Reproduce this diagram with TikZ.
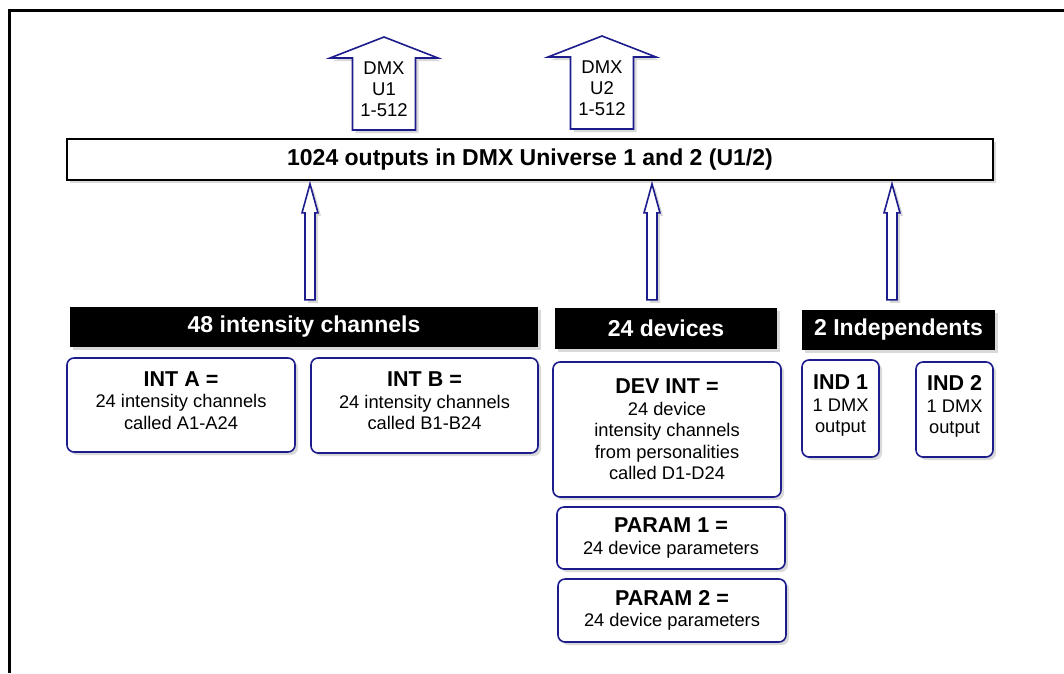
\documentclass[tikz,border=0pt]{standalone}
\usepackage{fontspec}
\setmainfont{Liberation Sans}
\usetikzlibrary{calc,shadows}
\definecolor{boxblue}{RGB}{28,28,140}
\newcommand{\boxttl}{\bfseries\fontsize{21.5}{25}\selectfont}
% hollow arrow from a header up to the outputs bar
\newcommand{\thinup}[2]{%
  \draw[flow] ($(#1)+(-5,0)$) -- ($(#2)+(-5,29)$) -- ($(#2)+(-8,29)$) -- (#2)
    -- ($(#2)+(8,29)$) -- ($(#2)+(5,29)$) -- ($(#1)+(5,0)$) -- cycle;}
% wide arrow leaving the outputs bar
\newcommand{\bigup}[1]{%
  \draw[flow] ($(#1)+(-31.5,41)$) -- ($(#1)+(-31.5,-31)$) -- ($(#1)+(-54,-31)$) -- ($(#1)+(0,-52)$)
    -- ($(#1)+(54,-31)$) -- ($(#1)+(31.5,-31)$) -- ($(#1)+(31.5,41)$) -- cycle;}

\begin{document}
\begin{tikzpicture}[x=1pt,y=-1pt,
    shade/.style={drop shadow={shadow xshift=3pt,shadow yshift=-3pt,opacity=.3}},
    flow/.style={draw=boxblue,line width=1.6pt,fill=white,shade},
    box/.style={draw=boxblue,line width=1.6pt,rounded corners=7pt,fill=white,align=center,
      inner sep=1pt,font=\fontsize{18.3}{21.5}\selectfont,shade},
    hdr/.style={fill=black,text=white,inner sep=0pt,minimum height=40pt,
      font=\bfseries\fontsize{23}{26}\selectfont,shade},
    dmxtext/.style={align=center,inner sep=0pt,font=\fontsize{18.5}{21}\selectfont}]
  \useasboundingbox (0,0) rectangle (1064,673);
  \draw[line width=3pt] (9.5,673) -- (9.5,10.5) -- (1064,10.5);

  % outputs bar
  \node[draw,line width=1.8pt,fill=white,minimum width=926pt,minimum height=41pt,inner sep=0pt,
    font=\bfseries\fontsize{23}{26}\selectfont,shade] (bar) at (530,159.5)
    {1024 outputs in DMX Universe 1 and 2 (U1/2)};

  % universes
  \coordinate (u1) at (384,89);
  \coordinate (u2) at (602,88);
  \bigup{u1}
  \bigup{u2}
  \node[dmxtext] (u1txt) at (u1) {DMX\\U1\\1-512};
  \node[dmxtext] (u2txt) at (u2) {DMX\\U2\\1-512};

  % group headers
  \node[hdr,minimum width=468pt] (hdrInt) at (304,327) {48 intensity channels};
  \node[hdr,minimum width=222pt,minimum height=41pt] (hdrDev) at (666,328.5) {24 devices};
  \node[hdr,minimum width=193pt] (hdrInd) at (898.5,330) {2 Independents};

  \coordinate (bInt) at ($(hdrInt.north)+(6,-7)$);
  \coordinate (bDev) at ($(hdrDev.north)+(-14,-8)$);
  \coordinate (bInd) at ($(hdrInd.north)+(-6.5,-10)$);
  \coordinate (tInt) at ($(bInt |- bar.south)+(0,3)$);
  \coordinate (tDev) at ($(bDev |- bar.south)+(0,3)$);
  \coordinate (tInd) at ($(bInd |- bar.south)+(0,3)$);
  \thinup{bInt}{tInt}
  \thinup{bDev}{tDev}
  \thinup{bInd}{tInd}

  % channel boxes
  \node[box,minimum width=228pt,minimum height=94pt] (intA) at (181,405)
    {{\boxttl INT A =}\\24 intensity channels\\called A1-A24\\[-12pt]};
  \node[box,minimum width=227pt,minimum height=95pt] (intB) at (424.5,405.5)
    {{\boxttl INT B =}\\24 intensity channels\\called B1-B24\\[-12pt]};
  \node[box,minimum width=228pt,minimum height=135pt] (devInt) at (667,429.5)
    {{\boxttl DEV INT =}\\24 device\\intensity channels\\from personalities\\called D1-D24};
  \node[box,minimum width=228pt,minimum height=62pt] (par1) at (671,538)
    {{\boxttl PARAM 1 =}\\24 device parameters};
  \node[box,minimum width=228pt,minimum height=63pt] (par2) at (672,610.5)
    {{\boxttl PARAM 2 =}\\24 device parameters};
  \node[box,minimum width=77pt,minimum height=97pt] (ind1) at (840.5,408.5)
    {{\boxttl IND 1}\\1 DMX\\output\\[-12pt]};
  \node[box,minimum width=77pt,minimum height=95pt] (ind2) at (954.5,409.5)
    {{\boxttl IND 2}\\1 DMX\\output\\[-12pt]};
\end{tikzpicture}
\end{document}
